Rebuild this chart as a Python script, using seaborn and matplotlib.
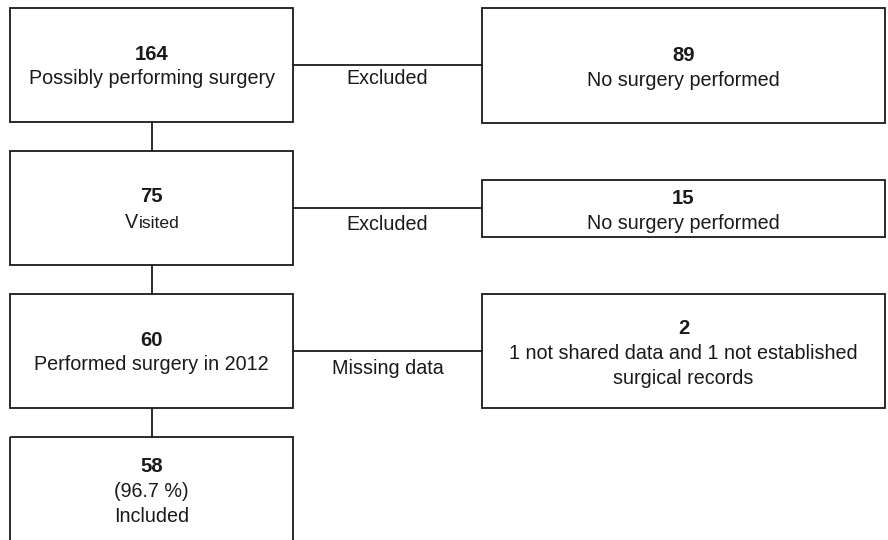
import matplotlib
matplotlib.use("Agg")
import matplotlib.pyplot as plt
import seaborn as sns
from matplotlib.patches import Rectangle

# flowchart content
main_counts = ["164", "75", "60", "58"]
main_labels = [["Possibly performing surgery"], ["Visited"],
               ["Performed surgery in 2012"], ["(96.7 %)", "Included"]]
side_counts = ["89", "15", "2"]
side_labels = [["No surgery performed"], ["No surgery performed"],
               ["1 not shared data and 1 not established", "surgical records"]]
edge_labels = ["Excluded", "Excluded", "Missing data"]

sns.set_theme(style="white")
plt.rcParams["font.family"] = ["Liberation Sans", "DejaVu Sans"]

fig = plt.figure(figsize=(8.88, 5.40), dpi=100)
ax = fig.add_axes([0, 0, 1, 1])
ax.set_xlim(0, 888)
ax.set_ylim(540, 0)
ax.axis("off")

ink = "#1a1a1a"
fs = 14.2
lw = 1.3

# layout (pixels)
left_x0, left_x1 = 10, 293
left_tops = [8, 151, 294, 437]
left_h = 114
right_x0, right_x1 = 482, 885
right_boxes = [(8, 123), (180, 237), (294, 408)]
edge_offsets = [14, 16, 17]
line_gap = 25
nudge = 2.5


def box(x0, y0, x1, y1):
    ax.add_patch(Rectangle((x0, y0), x1 - x0, y1 - y0, fill=False,
                           edgecolor=ink, linewidth=lw, clip_on=True))


def stack(xc, yc, count, lines):
    rows = [count] + lines
    n = len(rows)
    start = yc - (n - 1) * line_gap / 2 + nudge
    for i, r in enumerate(rows):
        y = start + i * line_gap
        if i == 0:
            ax.text(xc, y, r, ha="center", va="center", fontsize=fs + 0.4,
                    fontweight="bold", color=ink)
        elif r == "Visited":
            # the original has an oversized "V"
            ax.text(xc - 13, y, "V", ha="right", va="center", fontsize=fs,
                    color=ink)
            ax.text(xc - 13, y + 1, "isited", ha="left", va="center",
                    fontsize=fs - 1.6, color=ink)
        else:
            ax.text(xc, y, r, ha="center", va="center", fontsize=fs,
                    color=ink)


lx = (left_x0 + left_x1) / 2
for i, top in enumerate(left_tops):
    box(left_x0, top, left_x1, top + left_h)
    yc = top + left_h / 2
    if i == 3:
        yc = 490
    stack(lx, yc - 1, main_counts[i], main_labels[i])
    if i < 3:
        ax.plot([lx, lx], [top + left_h, left_tops[i + 1]], color=ink, lw=lw)

rx = (right_x0 + right_x1) / 2
for i, (t, b) in enumerate(right_boxes):
    box(right_x0, t, right_x1, b)
    yc = (t + b) / 2
    stack(rx, yc, side_counts[i], side_labels[i])
    ly = left_tops[i] + left_h / 2
    ax.plot([left_x1, right_x0], [ly, ly], color=ink, lw=lw)
    ax.text((left_x1 + right_x0) / 2, ly + edge_offsets[i], edge_labels[i],
            ha="center", va="center", fontsize=fs, color=ink)

fig.savefig("out.png", dpi=100, facecolor="white")
